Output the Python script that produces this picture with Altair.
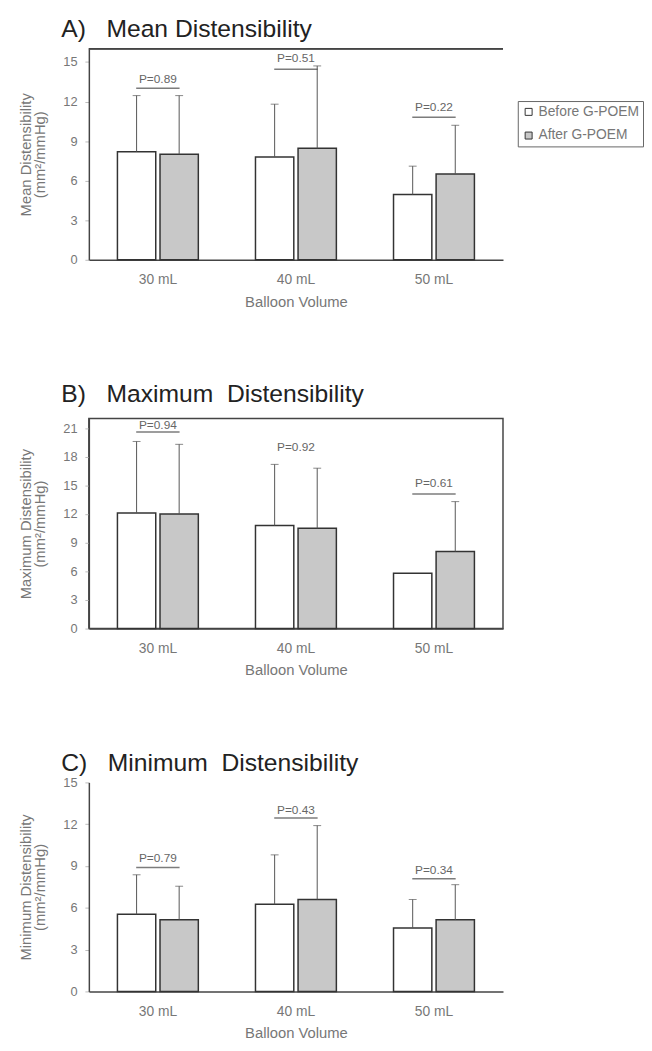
import altair as alt
import pandas as pd

volumes = ["30 mL", "40 mL", "50 mL"]
groups = ["Before G-POEM", "After G-POEM"]

# Panel A: Mean distensibility
a_before = [8.2, 7.8, 4.95]
a_after = [8.0, 8.45, 6.5]
a_before_top = [12.45, 11.8, 7.1]
a_after_top = [12.45, 14.7, 10.2]
a_p_text = ["P=0.89", "P=0.51", "P=0.22"]
a_p_text_y = [13.7, 15.3, 11.55]
a_p_line_y = [13.0, 14.45, 10.8]

# Panel B: Maximum distensibility
b_before = [12.1, 10.8, 5.8]
b_after = [12.0, 10.5, 8.07]
b_before_top = [19.6, 17.2, None]
b_after_top = [19.3, 16.8, 13.3]
b_p_text = ["P=0.94", "P=0.92", "P=0.61"]
b_p_text_y = [21.3, 19.0, 15.2]
b_p_line_y = [20.6, None, 14.1]

# Panel C: Minimum distensibility
c_before = [5.54, 6.25, 4.55]
c_after = [5.14, 6.6, 5.14]
c_before_top = [8.37, 9.8, 6.6]
c_after_top = [7.55, 11.9, 7.66]
c_p_text = ["P=0.79", "P=0.43", "P=0.34"]
c_p_text_y = [9.55, 13.0, 8.73]
c_p_line_y = [8.9, 12.45, 8.09]

FONT = "Liberation Sans"
AXIS_GREY = "#777777"
LINE = "#444444"
SP = "\u00a0\u00a0\u00a0"


def panel(title, ytitle, before, after, before_top, after_top,
          p_text, p_text_y, p_line_y, ymax, ticks, height, legend_y, title_offset,
          top_rule=False, box=False):
    rows = []
    for i, v in enumerate(volumes):
        rows.append({"volume": v, "group": groups[0], "value": before[i], "top": before_top[i]})
        rows.append({"volume": v, "group": groups[1], "value": after[i], "top": after_top[i]})
    bars_df = pd.DataFrame(rows)
    err_df = bars_df.dropna(subset=["top"])
    ann_df = pd.DataFrame({"volume": volumes, "text": p_text, "ty": p_text_y, "ly": p_line_y})
    line_df = ann_df.dropna(subset=["ly"])

    x = alt.X("volume:N", sort=volumes,
              scale=alt.Scale(paddingInner=0.414, paddingOuter=0.207),
              axis=alt.Axis(title="Balloon Volume", labelAngle=0, ticks=False,
                            labelPadding=13, titlePadding=8))
    xo = alt.XOffset("group:N", sort=groups,
                     scale=alt.Scale(domain=groups, paddingInner=0.1, paddingOuter=0))
    yscale = alt.Scale(domain=[0, ymax], nice=False, zero=True)
    yaxis = alt.Axis(title=ytitle, values=ticks, grid=False, tickSize=4,
                     tickColor="#bbbbbb", labelPadding=8, titlePadding=16,
                     labelOverlap=False, labelBound=False,
                     titleFontSize=15, titleLineHeight=14)

    def Y(field):
        return alt.Y(field, type="quantitative", scale=yscale, axis=yaxis)

    bars = alt.Chart(bars_df).mark_bar(stroke="#333333", strokeWidth=1.5).encode(
        x=x, xOffset=xo, y=Y("value"),
        fill=alt.Fill("group:N", scale=alt.Scale(domain=groups, range=["#ffffff", "#c8c8c8"]),
                      legend=alt.Legend(title=None, orient="none", legendX=435, legendY=legend_y,
                                        symbolType="square", symbolSize=50,
                                        symbolStrokeColor="#333333", symbolStrokeWidth=1,
                                        labelFontSize=14, labelColor="#777777", labelFont=FONT,
                                        labelOffset=3, rowPadding=10, padding=4,
                                        strokeColor="#666666", labelLimit=200)),
    )
    rules = alt.Chart(err_df).mark_rule(color="#555555", strokeWidth=1).encode(
        x=x, xOffset=xo, y=Y("value"), y2="top:Q")
    caps = alt.Chart(err_df).mark_tick(color="#555555", size=8, thickness=1).encode(
        x=x, xOffset=xo, y=Y("top"))
    plines = alt.Chart(line_df).mark_tick(color=LINE, size=44, thickness=1.5).encode(
        x=x, y=Y("ly"))
    ptext = alt.Chart(ann_df).mark_text(fontSize=12, color="#666666", font=FONT).encode(
        x=x, y=Y("ty"), text="text:N")

    layers = [bars, rules, caps, plines, ptext]
    if top_rule:
        layers.append(alt.Chart(ann_df).mark_rule(color=LINE, strokeWidth=1.5).encode(
            y=alt.datum(ymax)))
    props = dict(width=420, height=height,
                 title=alt.TitleParams(title, anchor="start", fontSize=25, fontWeight="normal",
                                       color="#222222", font=FONT, dx=-28, frame="group",
                                       offset=title_offset))
    ch = alt.layer(*layers).properties(**props)
    if box:
        ch = ch.properties(view=alt.ViewBackground(stroke=LINE, strokeWidth=1.5))
    return ch


pa = panel("A)" + SP + "Mean Distensibility", ["Mean Distensibility", "(mm²/mmHg)"],
           a_before, a_after, a_before_top, a_after_top, a_p_text, a_p_text_y, a_p_line_y,
           16, [0, 3, 6, 9, 12, 15], 214, 53, 6, top_rule=True)
pb = panel("B)" + SP + "Maximum\u00a0\u00a0Distensibility", ["Maximum Distensibility", "(mm²/mmHg)"],
           b_before, b_after, b_before_top, b_after_top, b_p_text, b_p_text_y, b_p_line_y,
           22, [0, 3, 6, 9, 12, 15, 18, 21], 213, 49, 12, box=True)
pc = panel("C)" + SP + "Minimum\u00a0\u00a0Distensibility", ["Minimum Distensibility", "(mm²/mmHg)"],
           c_before, c_after, c_before_top, c_after_top, c_p_text, c_p_text_y, c_p_line_y,
           15, [0, 3, 6, 9, 12, 15], 212, 49, 1)

chart = alt.vconcat(pa, pb, pc, spacing=73).configure_view(stroke=None).configure_axis(
    domainColor=LINE, domainWidth=1.5, labelColor=AXIS_GREY, labelFontSize=13,
    titleColor=AXIS_GREY, titleFontSize=15, titleFontWeight="normal",
    labelFont=FONT, titleFont=FONT,
).configure_axisX(labelFontSize=14).configure_axisY(labelOverlap=False).properties(
    padding={"left": 9, "top": 2, "right": 0, "bottom": 0})

chart.save("out.html", embed_options={"renderer": "svg", "actions": False})
